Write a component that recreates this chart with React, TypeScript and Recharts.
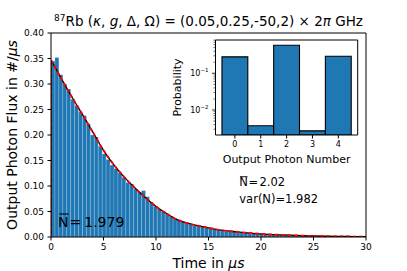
import React from "react";
import {
  ComposedChart,
  BarChart,
  Bar,
  Line,
  XAxis,
  YAxis,
  ReferenceLine,
} from "recharts";

const FONT = "DejaVu Sans, sans-serif";
const BLUE = "#1f77b4";

// arrival-time histogram, bins of 0.375 us from 0 to 30 us
const binWidth = 0.375;
const fluxHist = [
  0.345, 0.352, 0.318, 0.3, 0.29, 0.27, 0.258, 0.245, 0.238, 0.222,
  0.2, 0.196, 0.178, 0.163, 0.152, 0.141, 0.134, 0.126, 0.117, 0.107,
  0.104, 0.094, 0.088, 0.091, 0.079, 0.068, 0.06, 0.055, 0.05, 0.045,
  0.04, 0.036, 0.034, 0.03, 0.027, 0.025, 0.022, 0.021, 0.02, 0.018,
  0.017, 0.015, 0.014, 0.012, 0.011, 0.011, 0.01, 0.009, 0.008, 0.008,
  0.007, 0.007, 0.006, 0.006, 0.0055, 0.005, 0.0048, 0.0045, 0.004, 0.0037,
  0.0034, 0.003, 0.0028, 0.0026, 0.0024, 0.0022, 0.002, 0.0018, 0.0016, 0.0014,
  0.0013, 0.0012, 0.0011, 0.001, 0.0009, 0.0008, 0.0007, 0.0006, 0.0005, 0.0005,
];

// theory curve (red / black dashed)
const curveTime = [0, 1, 2, 3, 4, 5, 6, 7, 8, 9, 10, 11, 12, 13, 14, 15, 16, 17, 18, 20, 22, 24, 26, 28, 30];
const curveFlux = [
  0.347, 0.31, 0.274, 0.24, 0.205, 0.17, 0.141, 0.117, 0.096, 0.077, 0.06, 0.046, 0.034,
  0.027, 0.022, 0.018, 0.014, 0.0115, 0.0095, 0.006, 0.004, 0.0025, 0.0015, 0.001, 0.0005,
];
const edgeTime = [0, 0];
const edgeFlux = [0, 0.347];

const timeTicks = [0, 5, 10, 15, 20, 25, 30];
const fluxTicks = [0, 0.05, 0.1, 0.15, 0.2, 0.25, 0.3, 0.35, 0.4];

// inset: photon number distribution
const photonNumbers = [0, 1, 2, 3, 4];
const photonProb = [0.28, 0.0037, 0.58, 0.0027, 0.29];
const probTicks = [
  0.003, 0.004, 0.005, 0.006, 0.007, 0.008, 0.009, 0.01,
  0.02, 0.03, 0.04, 0.05, 0.06, 0.07, 0.08, 0.09, 0.1,
  0.2, 0.3, 0.4, 0.5, 0.6, 0.7, 0.8,
];
const probDomain = [0.00208, 0.807];

const histData = fluxHist.map((v, i) => ({ t: (i + 0.5) * binWidth, v }));
const curveData = curveTime.map((t, i) => ({ t, f: curveFlux[i] }));
const edgeData = edgeTime.map((t, i) => ({ t, f: edgeFlux[i] }));
const insetData = photonNumbers.map((n, i) => ({ n, p: photonProb[i] }));

// main plot box
const PL = 51, PT = 33, PR = 366, PB = 237;
// inset plot box
const IL = 215.5, IT = 40, IR = 357.7, IB = 135;

function LogTick(props: any) {
  const { x, y, payload } = props;
  const v = payload.value;
  const e = Math.log10(v);
  const major = Math.abs(e - Math.round(e)) < 1e-6;
  return (
    <g>
      <line x1={x} x2={x - (major ? 3.5 : 2)} y1={y} y2={y} stroke="#000" strokeWidth={major ? 0.8 : 0.6} />
      {major && (
        <text x={x - 7} y={y + 3} textAnchor="end" fontSize={8} fill="#000" fontFamily={FONT}>
          10
          <tspan fontSize={5.5} dy={-4}>
            {"\u2212" + Math.abs(Math.round(e))}
          </tspan>
        </text>
      )}
    </g>
  );
}

export default function App() {
  const mainW = 407, mainH = 271;
  const barSize = ((PR - PL) * binWidth) / 30 - 0.01;
  const insetLeft = 170, insetTop = 35, insetW = 190, insetH = 125;
  const insetBar = (IR - IL) / 5.5 - 0.02;

  return (
    <div style={{ position: "absolute", left: 0, top: 0, width: mainW, height: mainH, background: "#fff", fontFamily: FONT }}>
      <div style={{ position: "absolute", left: 0, top: 0 }}>
        <ComposedChart
          width={mainW}
          height={mainH}
          data={histData}
          margin={{ top: PT, left: PL - 40, right: mainW - PR, bottom: mainH - PB - 25 }}
        >
          <XAxis
            dataKey="t"
            type="number"
            domain={[0, 30]}
            ticks={timeTicks}
            allowDataOverflow
            interval={0}
            height={25}
            tickSize={3.5}
            tickMargin={3.5}
            axisLine={{ stroke: "#000" }}
            tickLine={{ stroke: "#000" }}
            tick={{ fill: "#000", fontSize: 9, fontFamily: FONT }}
          />
          <XAxis xAxisId="curve" dataKey="t" type="number" domain={[0, 30]} allowDataOverflow hide />
          <YAxis
            type="number"
            domain={[0, 0.4]}
            ticks={fluxTicks}
            allowDataOverflow
            interval={0}
            width={40}
            tickSize={3.5}
            tickMargin={3.5}
            tickFormatter={(v: number) => v.toFixed(2)}
            axisLine={{ stroke: "#000" }}
            tickLine={{ stroke: "#000" }}
            tick={{ fill: "#000", fontSize: 9, fontFamily: FONT }}
          />
          <Bar
            dataKey="v"
            fill={BLUE}
            stroke="#ffffff"
            strokeOpacity={0.35}
            strokeWidth={0.5}
            barSize={barSize}
            isAnimationActive={false}
          />
          <Line xAxisId="curve" data={edgeData} dataKey="f" type="linear" stroke="#000" strokeWidth={1.2} dot={false} activeDot={false} isAnimationActive={false} />
          <Line xAxisId="curve" data={edgeData} dataKey="f" type="linear" stroke="#ff0000" strokeWidth={1.6} strokeDasharray="4 2.5" dot={false} activeDot={false} isAnimationActive={false} />
          <Line xAxisId="curve" data={curveData} dataKey="f" type="monotone" stroke="#000" strokeWidth={1.3} dot={false} activeDot={false} isAnimationActive={false} />
          <Line xAxisId="curve" data={curveData} dataKey="f" type="monotone" stroke="#ff0000" strokeWidth={1.9} strokeDasharray="4 2.5" dot={false} activeDot={false} isAnimationActive={false} />
          <ReferenceLine y={0.4} stroke="#000" strokeWidth={1} />
          <ReferenceLine x={30} stroke="#000" strokeWidth={1} />
        </ComposedChart>
      </div>

      <div style={{ position: "absolute", left: IL, top: IT, width: IR - IL, height: IB - IT, background: "#fff" }} />

      <div style={{ position: "absolute", left: insetLeft, top: insetTop }}>
        <BarChart
          width={insetW}
          height={insetH}
          data={insetData}
          margin={{ top: IT - insetTop, left: IL - insetLeft - 30, right: insetLeft + insetW - IR, bottom: insetTop + insetH - IB - 20 }}
        >
          <XAxis
            dataKey="n"
            type="number"
            domain={[-0.75, 4.75]}
            ticks={photonNumbers}
            allowDataOverflow
            interval={0}
            height={20}
            tickSize={3.5}
            tickMargin={3}
            axisLine={{ stroke: "#000" }}
            tickLine={{ stroke: "#000" }}
            tick={{ fill: "#000", fontSize: 8, fontFamily: FONT }}
          />
          <YAxis
            scale="log"
            type="number"
            domain={probDomain}
            ticks={probTicks}
            allowDataOverflow
            interval={0}
            width={30}
            tickSize={0}
            tickMargin={0}
            tickLine={false}
            axisLine={{ stroke: "#000" }}
            tick={<LogTick />}
          />
          <Bar dataKey="p" fill={BLUE} stroke="#000" strokeWidth={1.1} barSize={insetBar} isAnimationActive={false} />
          <ReferenceLine y={probDomain[1]} stroke="#000" strokeWidth={1} />
          <ReferenceLine x={4.75} stroke="#000" strokeWidth={1} />
        </BarChart>
      </div>

      <svg width={mainW} height={mainH} style={{ position: "absolute", left: 0, top: 0, pointerEvents: "none" }} fontFamily={FONT}>
        <text x={208.5} y={26} textAnchor="middle" fontSize={13.5} fill="#000">
          <tspan fontSize={9} dy={-5}>87</tspan>
          <tspan dy={5}>{"Rb ("}</tspan>
          <tspan fontStyle="italic">κ</tspan>
          <tspan>{", "}</tspan>
          <tspan fontStyle="italic">g</tspan>
          <tspan>{", Δ, Ω) = (0.05,0.25,-50,2) × 2"}</tspan>
          <tspan fontStyle="italic">π</tspan>
          <tspan>{" GHz"}</tspan>
        </text>

        <text transform="translate(16.5,135) rotate(-90)" textAnchor="middle" fontSize={14} fill="#000">
          {"Output Photon Flux in #/"}
          <tspan fontStyle="italic">μs</tspan>
        </text>
        <text x={208.5} y={267.5} textAnchor="middle" fontSize={14} fill="#000">
          {"Time in "}
          <tspan fontStyle="italic">μs</tspan>
        </text>

        <text transform="translate(180.5,87.5) rotate(-90)" textAnchor="middle" fontSize={11} fill="#000">
          Probability
        </text>
        <text x={286.6} y={163.3} textAnchor="middle" fontSize={11} fill="#000">
          Output Photon Number
        </text>

        <line x1={59.3} x2={68.5} y1={214} y2={214} stroke="#000" strokeWidth={1.1} />
        <text x={58} y={226.7} fontSize={14} fill="#000">
          N<tspan dx={1}>=</tspan>
          <tspan dx={3}>1.979</tspan>
        </text>

        <line x1={240} x2={247.5} y1={176.7} y2={176.7} stroke="#000" strokeWidth={0.9} />
        <text x={239.3} y={186} fontSize={11.5} fill="#000">
          N<tspan dx={0.5}>=</tspan>
          <tspan dx={1.5}>2.02</tspan>
        </text>
        <text x={239.3} y={202.7} fontSize={11.5} fill="#000">
          var(N)=1.982
        </text>
      </svg>
    </div>
  );
}
